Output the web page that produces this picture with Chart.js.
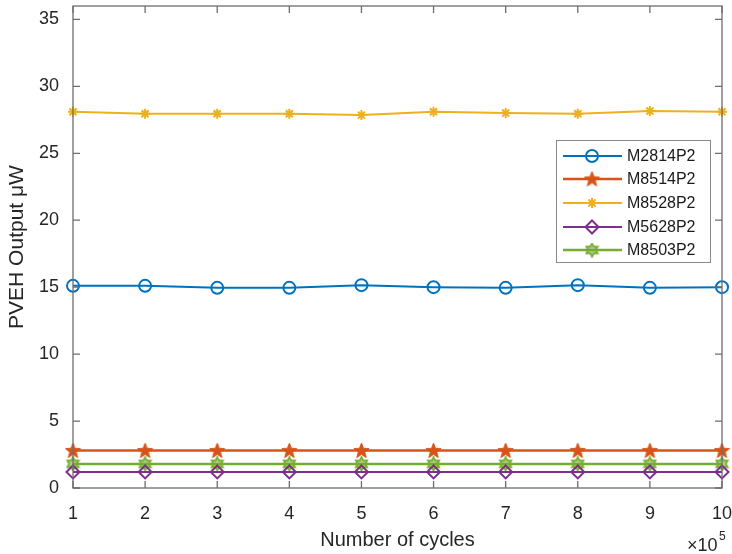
<!DOCTYPE html>
<html>
<head>
<meta charset="utf-8">
<script src="https://cdn.jsdelivr.net/npm/chart.js@4.4.1/dist/chart.umd.min.js"></script>
<style>
  html, body { margin: 0; padding: 0; background: #ffffff; }
  #c { display: block; }
</style>
</head>
<body>
<canvas id="c" width="732" height="554"></canvas>
<script>
// ---- Data ----
const cycles = [1, 2, 3, 4, 5, 6, 7, 8, 9, 10];          // ×10^5
const seriesNames = ['M2814P2', 'M8514P2', 'M8528P2', 'M5628P2', 'M8503P2'];
const m2814p2 = [15.1, 15.1, 14.95, 14.95, 15.15, 15.0, 14.95, 15.15, 14.95, 15.0];
const m8514p2 = [2.8, 2.8, 2.8, 2.8, 2.8, 2.8, 2.8, 2.8, 2.8, 2.8];
const m8528p2 = [28.1, 27.95, 27.95, 27.95, 27.85, 28.1, 28.0, 27.95, 28.15, 28.1];
const m5628p2 = [1.2, 1.2, 1.2, 1.2, 1.2, 1.2, 1.2, 1.2, 1.2, 1.2];
const m8503p2 = [1.8, 1.8, 1.8, 1.8, 1.8, 1.8, 1.8, 1.8, 1.8, 1.8];
const yTickValues = [0, 5, 10, 15, 20, 25, 30, 35];
const xTickValues = [1, 2, 3, 4, 5, 6, 7, 8, 9, 10];

const COLORS = ['#0072BD', '#D95319', '#EDB120', '#7E2F8E', '#77AC30'];
const FONT = "'Liberation Sans', Arial, sans-serif";
const TEXT = '#262626';
const AXIS = '#6e6e6e';

// ---- custom marker images ----
function pentagram(color, size) {
  const cv = document.createElement('canvas');
  cv.width = size; cv.height = size;
  const g = cv.getContext('2d');
  const cx = size / 2, cy = size / 2 + 0.5, R = size / 2 - 0.5, r = R * 0.42;
  g.beginPath();
  for (let i = 0; i < 10; i++) {
    const a = -Math.PI / 2 + i * Math.PI / 5;
    const rr = i % 2 === 0 ? R : r;
    const px = cx + rr * Math.cos(a), py = cy + rr * Math.sin(a);
    if (i === 0) g.moveTo(px, py); else g.lineTo(px, py);
  }
  g.closePath();
  g.fillStyle = color; g.fill();
  g.strokeStyle = color; g.lineWidth = 1; g.stroke();
  return cv;
}
function hexagram(color, size) {
  const cv = document.createElement('canvas');
  cv.width = size; cv.height = size;
  const g = cv.getContext('2d');
  const cx = size / 2, cy = size / 2, R = size / 2 - 1, r = R * 0.58;
  g.beginPath();
  for (let i = 0; i < 12; i++) {
    const a = -Math.PI / 2 + i * Math.PI / 6;
    const rr = i % 2 === 0 ? R : r;
    const px = cx + rr * Math.cos(a), py = cy + rr * Math.sin(a);
    if (i === 0) g.moveTo(px, py); else g.lineTo(px, py);
  }
  g.closePath();
  g.fillStyle = 'rgba(119,172,48,0.55)'; g.fill();
  g.strokeStyle = color; g.lineWidth = 1.8; g.stroke();
  return cv;
}
const starImg = pentagram(COLORS[1], 17);
const hexImg = hexagram(COLORS[4], 15);

const allValues = [m2814p2, m8514p2, m8528p2, m5628p2, m8503p2];
const pointStyles = ['circle', starImg, 'star', 'rectRot', hexImg];
const pointRadii = [6, 7, 5, 6.5, 7];
const lineWidths = [2, 2.5, 2, 2, 2.5];

const datasets = seriesNames.map((name, i) => ({
  label: name,
  data: cycles.map((c, k) => ({ x: c, y: allValues[i][k] })),
  borderColor: COLORS[i],
  backgroundColor: COLORS[i],
  borderWidth: lineWidths[i],
  pointStyle: pointStyles[i],
  pointRadius: pointRadii[i],
  pointHoverRadius: pointRadii[i],
  pointBorderWidth: 2,
  pointBorderColor: COLORS[i],
  pointBackgroundColor: 'rgba(0,0,0,0)',
  tension: 0,
  clip: false
}));

// ---- plugin: box, inward ticks, legend, ×10^5 ----
const decor = {
  id: 'decor',
  afterDatasetsDraw(chart) {
    const { ctx, chartArea: a, scales } = chart;
    const xs = scales.x, ys = scales.y;
    ctx.save();
    ctx.strokeStyle = AXIS;
    ctx.lineWidth = 1.3;
    ctx.strokeRect(a.left, a.top, a.right - a.left, a.bottom - a.top);
    const tl = 7;
    ctx.beginPath();
    xTickValues.forEach(v => {
      const px = xs.getPixelForValue(v);
      ctx.moveTo(px, a.bottom); ctx.lineTo(px, a.bottom - tl);
      ctx.moveTo(px, a.top); ctx.lineTo(px, a.top + tl);
    });
    yTickValues.forEach(v => {
      const py = ys.getPixelForValue(v);
      ctx.moveTo(a.left, py); ctx.lineTo(a.left + tl, py);
      ctx.moveTo(a.right, py); ctx.lineTo(a.right - tl, py);
    });
    ctx.stroke();

    // legend
    const lx = 556, ly = 140, lw = 154, lh = 122;
    ctx.fillStyle = '#ffffff';
    ctx.fillRect(lx, ly, lw, lh);
    ctx.strokeStyle = '#8a8a8a';
    ctx.lineWidth = 1;
    ctx.strokeRect(lx + 0.5, ly + 0.5, lw, lh);
    const rowY = [156, 179, 203, 227, 250];
    ctx.font = '16px ' + FONT;
    ctx.textBaseline = 'middle';
    ctx.textAlign = 'left';
    chart.data.datasets.forEach((ds, i) => {
      const y = rowY[i];
      ctx.strokeStyle = ds.borderColor;
      ctx.lineWidth = ds.borderWidth;
      ctx.beginPath();
      ctx.moveTo(563, y); ctx.lineTo(622, y);
      ctx.stroke();
      ctx.fillStyle = ds.pointBackgroundColor;
      ctx.strokeStyle = ds.pointBorderColor;
      ctx.lineWidth = ds.pointBorderWidth;
      Chart.helpers.drawPoint(ctx, {
        pointStyle: ds.pointStyle,
        radius: ds.pointRadius,
        rotation: 0,
        borderWidth: ds.pointBorderWidth
      }, 592, y);
      ctx.fillStyle = '#1a1a1a';
      ctx.fillText(ds.label, 627, y + 1);
    });

    // exponent label
    ctx.fillStyle = TEXT;
    ctx.textBaseline = 'alphabetic';
    ctx.font = '18px ' + FONT;
    ctx.fillText('\u00d710', 687, 551);
    ctx.font = '12px ' + FONT;
    ctx.fillText('5', 719, 540);
    ctx.restore();
  }
};

new Chart(document.getElementById('c'), {
  type: 'line',
  data: { datasets },
  plugins: [decor],
  options: {
    responsive: false,
    devicePixelRatio: 1,
    animation: false,
    events: [],
    layout: { autoPadding: false, padding: { top: 6, right: 10, left: 0, bottom: 0 } },
    plugins: { legend: { display: false }, tooltip: { enabled: false } },
    scales: {
      x: {
        type: 'linear',
        min: 1, max: 10,
        afterFit(s) { s.height = 66; s.paddingLeft = 0; s.paddingRight = 0; s.paddingTop = 0; s.paddingBottom = 0; },
        afterBuildTicks(s) { s.ticks = xTickValues.map(v => ({ value: v })); },
        grid: { display: false },
        border: { display: false },
        ticks: {
          color: TEXT,
          font: { family: FONT, size: 18 },
          padding: 7,
          maxRotation: 0,
          autoSkip: false
        },
        title: {
          display: true,
          text: 'Number of cycles',
          color: TEXT,
          font: { family: FONT, size: 20 },
          padding: { top: 0, bottom: 2 }
        }
      },
      y: {
        min: 0, max: 36,
        afterFit(s) { s.width = 73; s.paddingLeft = 0; s.paddingRight = 0; s.paddingTop = 0; s.paddingBottom = 0; },
        afterBuildTicks(s) { s.ticks = yTickValues.map(v => ({ value: v })); },
        grid: { display: false },
        border: { display: false },
        ticks: {
          color: TEXT,
          font: { family: FONT, size: 18 },
          padding: 6
        },
        title: {
          display: true,
          text: 'PVEH Output \u03bcW',
          color: TEXT,
          font: { family: FONT, size: 21 },
          padding: { top: 5, bottom: 0 }
        }
      }
    }
  }
});
</script>
</body>
</html>
